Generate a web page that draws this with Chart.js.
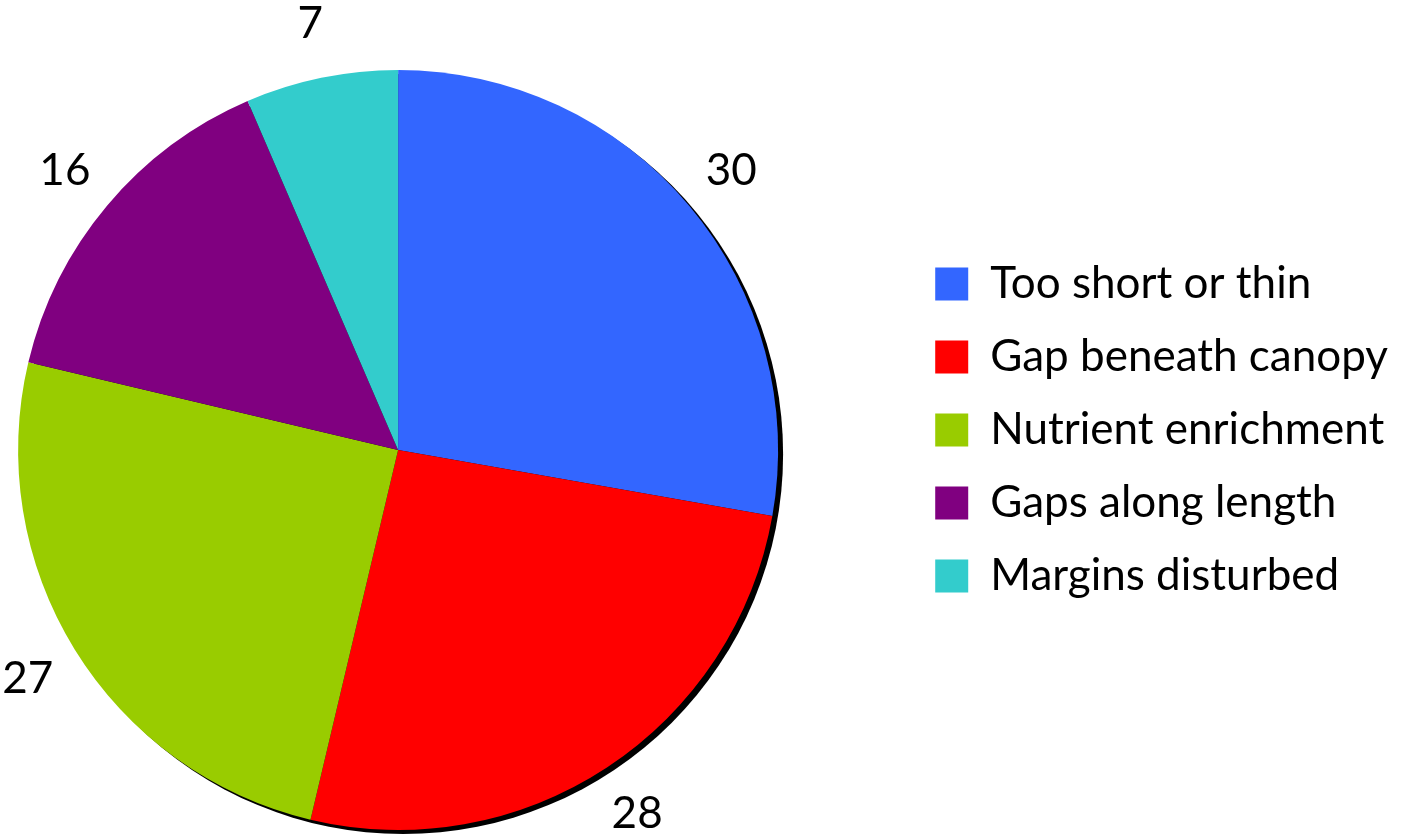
<!DOCTYPE html>
<html>
<head>
<meta charset="utf-8">
<script src="https://cdn.jsdelivr.net/npm/chart.js@4"></script>
<style>
  html, body { margin: 0; padding: 0; background: #fff; }
  #outer { width: 1407px; height: 839px; overflow: hidden; position: relative; }
  /* canvas runs past the left edge so the pie sits where the original one does */
  #wrap { position: absolute; left: -110px; top: 0; width: 1517px; height: 839px; }
</style>
</head>
<body>
<div id="outer"><div id="wrap"><canvas id="pieChart"></canvas></div></div>
<script>
var categories = ['Too short or thin', 'Gap beneath canopy', 'Nutrient enrichment', 'Gaps along length', 'Margins disturbed'];
var values = [30, 28, 27, 16, 7];
var colors = ['#3366FF', '#FF0000', '#99CC00', '#800080', '#33CCCC'];

// black edge offset behind the pie
var shadowPlugin = {
  id: 'pieShadow',
  beforeDatasetsDraw: function(chart) {
    var arc = chart.getDatasetMeta(0).data[0];
    if (!arc) return;
    var ctx = chart.ctx;
    ctx.save();
    ctx.fillStyle = '#000';
    ctx.beginPath();
    ctx.arc(arc.x + 5, arc.y + 4, arc.outerRadius, 0, Math.PI * 2);
    ctx.fill();
    ctx.restore();
  }
};

// value labels outside each slice
var outLabels = {
  id: 'outLabels',
  afterDatasetsDraw: function(chart) {
    var ctx = chart.ctx;
    var meta = chart.getDatasetMeta(0);
    ctx.save();
    ctx.font = '44px Lato, "Open Sans", sans-serif';
    ctx.fillStyle = '#000';
    ctx.textAlign = 'center';
    ctx.textBaseline = 'middle';
    meta.data.forEach(function(arc, i) {
      var mid = (arc.startAngle + arc.endAngle) / 2;
      var d = arc.outerRadius + 55;
      ctx.fillText(values[i], arc.x + Math.cos(mid) * d, arc.y + Math.sin(mid) * d);
    });
    ctx.restore();
  }
};

var ctx = document.getElementById('pieChart').getContext('2d');
var myChart = new Chart(ctx, {
  type: 'pie',
  plugins: [shadowPlugin, outLabels],
  data: {
    labels: categories,
    datasets: [{
      data: values,
      backgroundColor: colors,
      borderWidth: 0
    }]
  },
  options: {
    responsive: true,
    maintainAspectRatio: false,
    animation: false,
    layout: {
      padding: { left: 0, right: 9, top: 70, bottom: 9 }
    },
    plugins: {
      legend: {
        display: true,
        position: 'right',
        align: 'start',
        title: {
          display: true,
          text: ' ',
          font: { size: 10, lineHeight: 1.2 },
          padding: { top: 0, bottom: 151 }
        },
        labels: {
          boxWidth: 33,
          boxHeight: 33,
          padding: 29,
          color: '#000',
          font: {
            family: 'Lato, "Open Sans", sans-serif',
            size: 44
          }
        }
      },
      tooltip: { enabled: false }
    }
  }
});
</script>
</body>
</html>
